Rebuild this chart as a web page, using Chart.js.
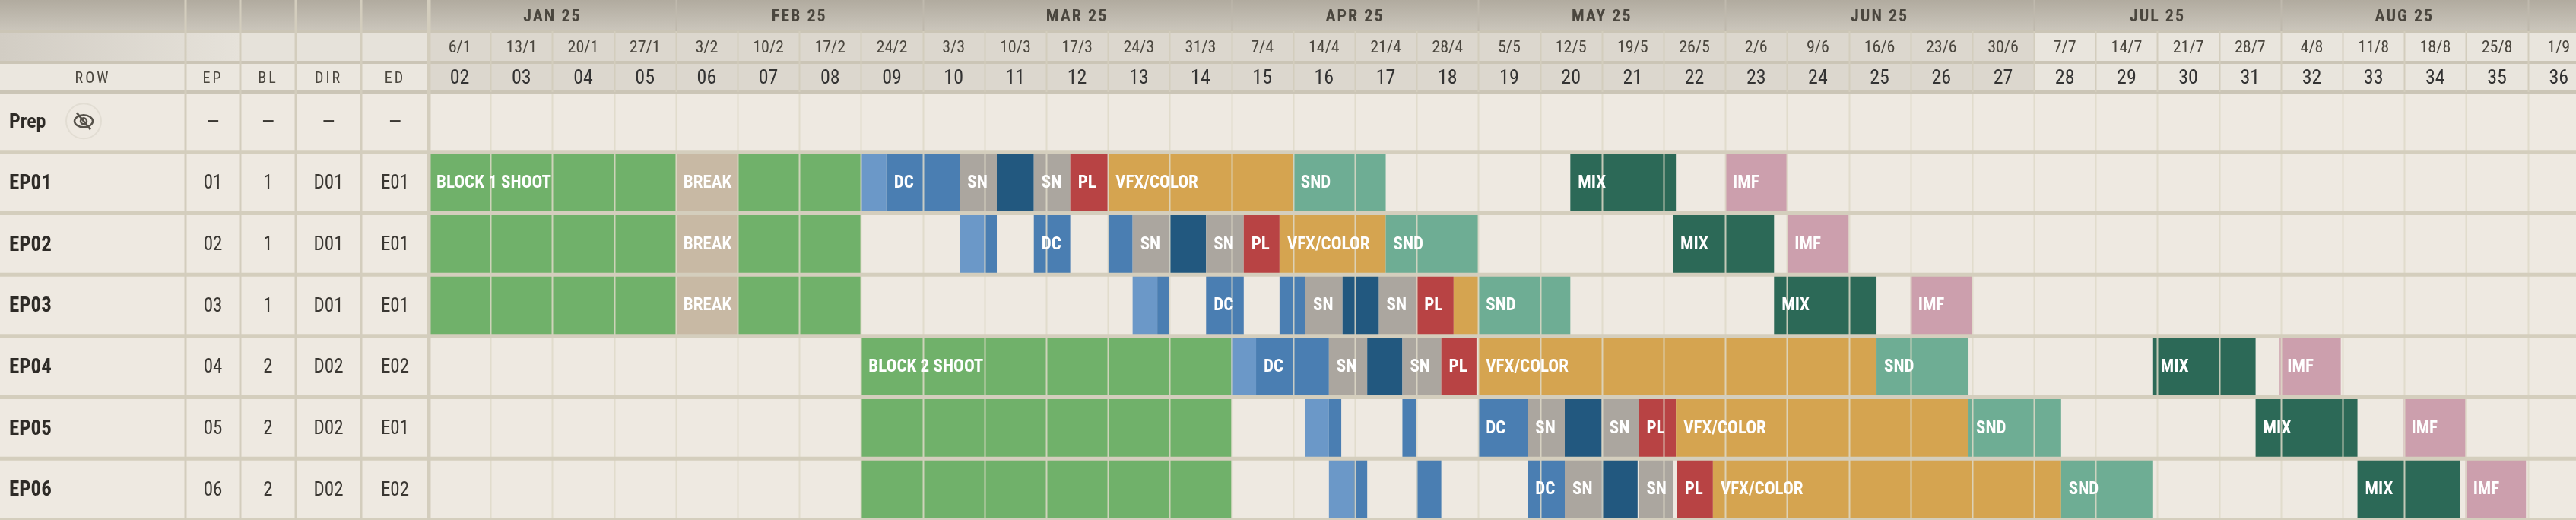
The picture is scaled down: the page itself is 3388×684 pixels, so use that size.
<!DOCTYPE html>
<html><head><meta charset="utf-8">
<script src="https://cdn.jsdelivr.net/npm/chart.js@4/dist/chart.umd.min.js"></script>
<style>html,body{margin:0;padding:0;background:#eee9e1;overflow:hidden}</style>
</head><body>
<canvas id="c" width="3388" height="684"></canvas>
<script>
const ROWS = ['Prep','EP01','EP02','EP03','EP04','EP05','EP06'];
const COL_EP  = ['—','01','02','03','04','05','06'];
const COL_BL  = ['—','1','1','1','2','2','2'];
const COL_DIR = ['—','D01','D01','D01','D02','D02','D02'];
const COL_ED  = ['—','E01','E01','E01','E02','E01','E02'];
const WEEKS = ['02','03','04','05','06','07','08','09','10','11','12','13','14','15','16','17','18','19','20','21','22','23','24','25','26','27','28','29','30','31','32','33','34','35','36'];
const DATES = ['6/1','13/1','20/1','27/1','3/2','10/2','17/2','24/2','3/3','10/3','17/3','24/3','31/3','7/4','14/4','21/4','28/4','5/5','12/5','19/5','26/5','2/6','9/6','16/6','23/6','30/6','7/7','14/7','21/7','28/7','4/8','11/8','18/8','25/8','1/9'];
const MONTHS = ['JAN 25','FEB 25','MAR 25','APR 25','MAY 25','JUN 25','JUL 25','AUG 25','SEP 25'];
const MONTH_START = [0,4,8,13,17,21,26,30,34];
// segments: [start week index, end week index, kind, label]
const EP01 = [[0,7,'SHOOT','BLOCK 1 SHOOT'],[4,5,'BREAK','BREAK'],[7,7.41,'PREP',''],[7.41,8.6,'DC','DC'],[8.6,9.2,'SN','SN'],[9.2,9.8,'EDIT',''],[9.8,10.39,'SN','SN'],[10.39,11,'PL','PL'],[11,14,'VFX','VFX/COLOR'],[14,15.5,'SND','SND'],[18.49,20.2,'MIX','MIX'],[21,22,'IMF','IMF']];
const EP02 = [[0,7,'SHOOT',''],[4,5,'BREAK','BREAK'],[8.6,9,'PREP',''],[9,9.2,'DC',''],[9.8,10.39,'DC','DC'],[11,11.4,'DC',''],[11.4,12,'SN','SN'],[12,12.59,'EDIT',''],[12.59,13.2,'SN','SN'],[13.2,13.78,'PL','PL'],[13.78,15.5,'VFX','VFX/COLOR'],[15.5,17,'SND','SND'],[20.15,21.79,'MIX','MIX'],[22,23,'IMF','IMF']];
const EP03 = [[0,7,'SHOOT',''],[4,5,'BREAK','BREAK'],[11.4,11.8,'PREP',''],[11.8,11.99,'DC',''],[12.59,13.2,'DC','DC'],[13.78,14.2,'DC',''],[14.2,14.8,'SN','SN'],[14.8,15.39,'EDIT',''],[15.39,15.99,'SN','SN'],[16,16.6,'PL','PL'],[16.6,17,'VFX',''],[17,18.49,'SND','SND'],[21.79,23.45,'MIX','MIX'],[24,25,'IMF','IMF']];
const EP04 = [[7,13,'SHOOT','BLOCK 2 SHOOT'],[13,13.4,'PREP',''],[13.4,14.58,'DC','DC'],[14.58,15.2,'SN','SN'],[15.2,15.77,'EDIT',''],[15.77,16.4,'SN','SN'],[16.4,16.97,'PL','PL'],[17,23.45,'VFX','VFX/COLOR'],[23.45,24.94,'SND','SND'],[27.93,29.59,'MIX','MIX'],[29.98,30.97,'IMF','IMF']];
const EP05 = [[7,13,'SHOOT',''],[14.2,14.58,'PREP',''],[14.58,14.78,'DC',''],[15.77,15.99,'DC',''],[17,17.8,'DC','DC'],[17.8,18.4,'SN','SN'],[18.4,19,'EDIT',''],[19,19.6,'SN','SN'],[19.6,20.2,'PL','PL'],[20.2,24.94,'VFX','VFX/COLOR'],[24.94,26.44,'SND','SND'],[29.59,31.24,'MIX','MIX'],[31.99,32.99,'IMF','IMF']];
const EP06 = [[7,13,'SHOOT',''],[14.58,14.98,'PREP',''],[14.98,15.2,'DC',''],[15.99,16.4,'DC',''],[17.8,18.4,'DC','DC'],[18.4,19,'SN','SN'],[19,19.58,'EDIT',''],[19.6,20.15,'SN','SN'],[20.22,20.8,'PL','PL'],[20.8,26.44,'VFX','VFX/COLOR'],[26.44,27.93,'SND','SND'],[31.24,32.9,'MIX','MIX'],[32.99,33.97,'IMF','IMF']];
const SEGMENTS = {EP01,EP02,EP03,EP04,EP05,EP06};
const KIND_COLOR = {SHOOT:'#70b16a',BREAK:'#c8b9a4',PREP:'#6b98c8',DC:'#4a7eb2',SN:'#aba69f',EDIT:'#22587f',PL:'#b84344',VFX:'#d5a450',SND:'#6ead94',MIX:'#2c6957',IMF:'#cc9fad'};

const FONT = '"Liberation Sans Narrow","Roboto Condensed","DejaVu Sans Condensed",Roboto,sans-serif';
const data = [];
for (const r of ROWS.slice(1)) for (const s of SEGMENTS[r]) data.push({x:[s[0],s[1]], y:r, kind:s[2], label:s[3]});

const COLS = [0,244,316,389,475,564];
const HDR = [0,41,82,121];
const headerPlugin = {
  id:'hdr',
  beforeDraw(ch){
    const c=ch.ctx, xs=ch.scales.x, ys=ch.scales.y;
    c.save();
    c.fillStyle='#eee9e1'; c.fillRect(0,0,ch.width,ch.height);
    c.restore();
  },
  afterDatasetsDraw(ch){
    const c=ch.ctx, xs=ch.scales.x, ys=ch.scales.y;
    c.save();
    // vertical week lines over body
    c.strokeStyle='rgba(222,217,200,0.85)'; c.lineWidth=2;
    for(let i=0;i<=35;i++){const x=Math.round(xs.getPixelForValue(i))+0.5;c.beginPath();c.moveTo(x,HDR[3]);c.lineTo(x,ch.height);c.stroke();}
    // horizontal row lines
    c.strokeStyle='#d4cebd'; c.lineWidth=5;
    for(let i=0;i<ROWS.length;i++){const y=ys.getPixelForValue(i)+ (ys.getPixelForValue(1)-ys.getPixelForValue(0))/2; c.beginPath();c.moveTo(0,y);c.lineTo(ch.width,y);c.stroke();}
    // bar labels
    c.fillStyle='#fff'; c.font='bold 23px '+FONT; c.textBaseline='middle'; c.textAlign='left';
    for(const d of data){ if(!d.label) continue; const x=xs.getPixelForValue(d.x[0])+10; const y=ys.getPixelForValue(ROWS.indexOf(d.y)); c.fillText(d.label,x,y+1); }
    // header background
    const g=c.createLinearGradient(0,0,0,HDR[1]); g.addColorStop(0,'#b1ab9f'); g.addColorStop(1,'#cbc6bc');
    c.fillStyle=g; c.fillRect(0,0,ch.width,HDR[1]);
    const x26=xs.getPixelForValue(26);
    c.fillStyle='#dcd7ce'; c.fillRect(COLS[5],HDR[1],x26-COLS[5],HDR[3]-HDR[1]);
    c.fillStyle='#e9e5dd'; c.fillRect(x26,HDR[1],ch.width-x26,HDR[3]-HDR[1]);
    const g2=c.createLinearGradient(0,HDR[1],COLS[2],HDR[1]); g2.addColorStop(0,'#d2cdc4'); g2.addColorStop(1,'#e6e2da');
    c.fillStyle=g2; c.fillRect(0,HDR[1],COLS[5],HDR[2]-HDR[1]);
    c.fillStyle='#ebe7df'; c.fillRect(0,HDR[2],COLS[5],HDR[3]-HDR[2]);
    // header lines
    c.strokeStyle='#cbc5b6'; c.lineWidth=4;
    [HDR[1],HDR[2],HDR[3]].forEach(y=>{c.beginPath();c.moveTo(0,y);c.lineTo(ch.width,y);c.stroke();});
    c.lineWidth=2; c.strokeStyle='#d3cdbd';
    for(let i=0;i<=35;i++){const x=Math.round(xs.getPixelForValue(i))+0.5;c.beginPath();c.moveTo(x,HDR[1]);c.lineTo(x,HDR[3]);c.stroke();}
    c.strokeStyle='#bfb9ad';
    MONTH_START.forEach(m=>{const x=Math.round(xs.getPixelForValue(m))+0.5;c.beginPath();c.moveTo(x,0);c.lineTo(x,HDR[1]);c.stroke();});
    c.strokeStyle='#d3cdbd';
    COLS.slice(1).forEach((x,i)=>{c.lineWidth= i===4?5:3; c.beginPath();c.moveTo(x,0);c.lineTo(x,ch.height);c.stroke();});
    // header texts
    c.textAlign='center'; c.fillStyle='#4a463e';
    c.font='bold 22px '+FONT; c.letterSpacing='2px';
    MONTHS.forEach((m,i)=>{const a=xs.getPixelForValue(MONTH_START[i]); const b=xs.getPixelForValue(i<MONTHS.length-1?MONTH_START[i+1]:38); c.fillText(m,(a+b)/2,HDR[1]/2+2);});
    c.letterSpacing='0px';
    c.font='22px '+FONT; c.fillStyle='#4a463e';
    DATES.forEach((d,i)=>c.fillText(d,xs.getPixelForValue(i+0.5),(HDR[1]+HDR[2])/2+2));
    c.font='26px '+FONT; c.fillStyle='#333';
    WEEKS.forEach((w,i)=>c.fillText(w,xs.getPixelForValue(i+0.5),(HDR[2]+HDR[3])/2+2));
    c.font='20px '+FONT; c.fillStyle='#4a463e'; c.letterSpacing='3px';
    ['ROW','EP','BL','DIR','ED'].forEach((t,i)=>c.fillText(t,(COLS[i]+COLS[i+1])/2,(HDR[2]+HDR[3])/2+2));
    c.letterSpacing='0px';
    // left table
    ROWS.forEach((r,i)=>{
      const y=ys.getPixelForValue(i)+2;
      c.textAlign='left'; c.fillStyle='#2e2b27'; c.font=(i===0?'bold 26px ':'bold 27px ')+FONT;
      c.fillText(r,12,y);
      c.textAlign='center'; c.font='25px '+FONT; c.fillStyle='#3a3732';
      [COL_EP,COL_BL,COL_DIR,COL_ED].forEach((col,j)=>c.fillText(col[i],(COLS[j+1]+COLS[j+2])/2,y));
    });
    // eye-slash icon
    const ey=ys.getPixelForValue(0), ex=110;
    c.strokeStyle='#e2ddd3'; c.lineWidth=2; c.beginPath(); c.arc(ex,ey,23,0,Math.PI*2); c.stroke();
    c.strokeStyle='#55514a'; c.lineWidth=2.5;
    c.beginPath(); c.ellipse(ex,ey,12,8,0,0,Math.PI*2); c.stroke();
    c.beginPath(); c.arc(ex,ey,4,0,Math.PI*2); c.stroke();
    c.beginPath(); c.moveTo(ex-9,ey-11); c.lineTo(ex+9,ey+11); c.stroke();
    c.restore();
  }
};

new Chart(document.getElementById('c'),{
  type:'bar',
  data:{labels:ROWS,datasets:[{data,
    backgroundColor:ctx=>KIND_COLOR[ctx.raw?ctx.raw.kind:'SHOOT'],
    borderWidth:0,borderSkipped:false,grouped:false,barPercentage:0.97,categoryPercentage:1}]},
  options:{indexAxis:'y',responsive:false,animation:false,devicePixelRatio:1,
    layout:{padding:{left:564,top:119,right:0,bottom:0}},
    plugins:{legend:{display:false},tooltip:{enabled:false}},
    scales:{x:{type:'linear',min:0,max:34.78,display:false},
            y:{type:'category',display:false,offset:true}}},
  plugins:[headerPlugin]
});
</script></body></html>
